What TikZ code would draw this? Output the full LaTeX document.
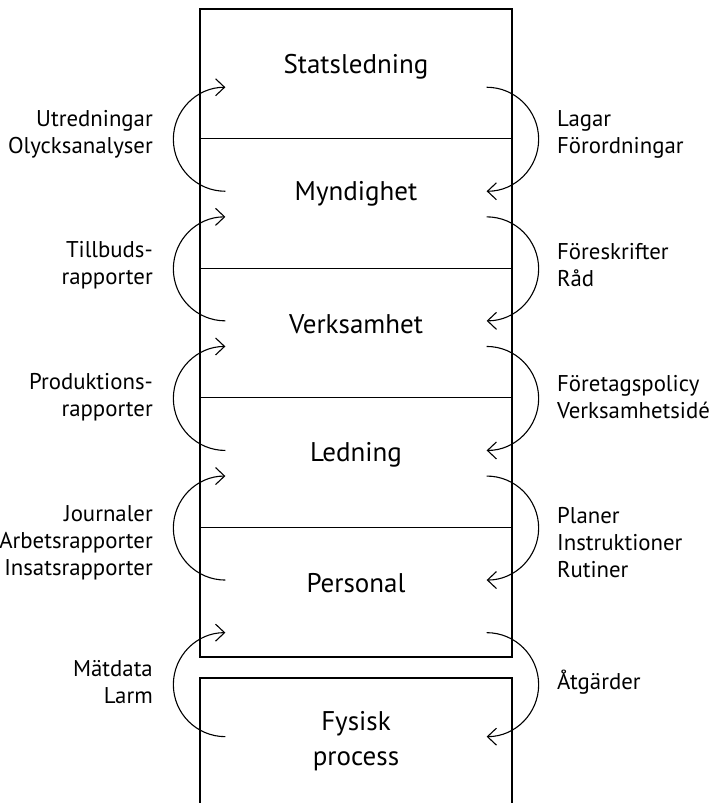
\documentclass[tikz,border=0pt]{standalone}
\usepackage{fontspec}
\setmainfont{PT Sans}
\usetikzlibrary{arrows.meta,calc}
\begin{document}
\begin{tikzpicture}[x=1pt,y=1pt,
  layer/.style={draw,line width=1.3pt,minimum width=312pt,minimum height=129.6pt,inner sep=0pt},
  title/.style={font=\fontsize{27}{35}\selectfont,align=center},
  lbl/.style={font=\fontsize{22.8}{27}\selectfont,inner sep=0pt},
  lbll/.style={lbl,align=right,anchor=east},
  lblr/.style={lbl,align=left,anchor=west},
  flow/.style={line width=1.1pt,-{Straight Barb[length=9pt,width=17pt,line width=1.1pt]}}]
\useasboundingbox (0,0) rectangle (721,-803);

% stacked organisational levels
\node[layer] (L1) at (356,-73.8) {};
\node[layer] (L2) at (356,-203.4) {};
\node[layer] (L3) at (356,-333.0) {};
\node[layer] (L4) at (356,-462.6) {};
\node[layer] (L5) at (356,-592.2) {};

\node[title] (T1) at (356,-67) {Statsledning};
\node[title] (T2) at (356,-194) {Myndighet};
\node[title] (T3) at (356,-324) {Verksamhet};
\node[title] (T4) at (356,-455) {Ledning};
\node[title] (T5) at (356,-583) {Personal};

% physical process, open at the bottom
\coordinate (P1) at (200,-803);
\coordinate (P2) at (200,-678);
\coordinate (P3) at (512,-678);
\coordinate (P4) at (512,-803);
\draw[line width=1.3pt] (P1) -- (P2) -- (P3) -- (P4);
\node[title] (T6) at (356,-741) {Fysisk\\process};

% feedback upwards (left) and control downwards (right)
\foreach \n in {1,2,3,4} {
  \draw[flow] ($(L\n.south west)+(26,-52)$) arc[start angle=270,end angle=90,radius=52];
  \draw[flow] ($(L\n.south east)+(-26,52)$) arc[start angle=90,end angle=-90,radius=52];
}
\draw[flow] ($(L5.south west)+(26,-79)$) arc[start angle=270,end angle=90,radius=52];
\draw[flow] ($(L5.south east)+(-26,25)$) arc[start angle=90,end angle=-90,radius=52];

% left labels
\node[lbll] (A1) at (153,-134) {Utredningar\\Olycksanalyser};
\node[lbll] (A2) at (153,-265) {Tillbuds-\\rapporter};
\node[lbll] (A3) at (153,-397) {Produktions-\\rapporter};
\node[lbll] (A4) at (153,-543) {Journaler\\Arbetsrapporter\\Insatsrapporter};
\node[lbll] (A5) at (153,-682) {Mätdata\\Larm};

% right labels
\node[lblr] (B1) at (557,-134) {Lagar\\Förordningar};
\node[lblr] (B2) at (557,-265) {Föreskrifter\\Råd};
\node[lblr] (B3) at (557,-397) {Företagspolicy\\Verksamhetsidé};
\node[lblr] (B4) at (557,-543) {Planer\\Instruktioner\\Rutiner};
\node[lblr] (B5) at (557,-682) {Åtgärder};
\end{tikzpicture}
\end{document}
